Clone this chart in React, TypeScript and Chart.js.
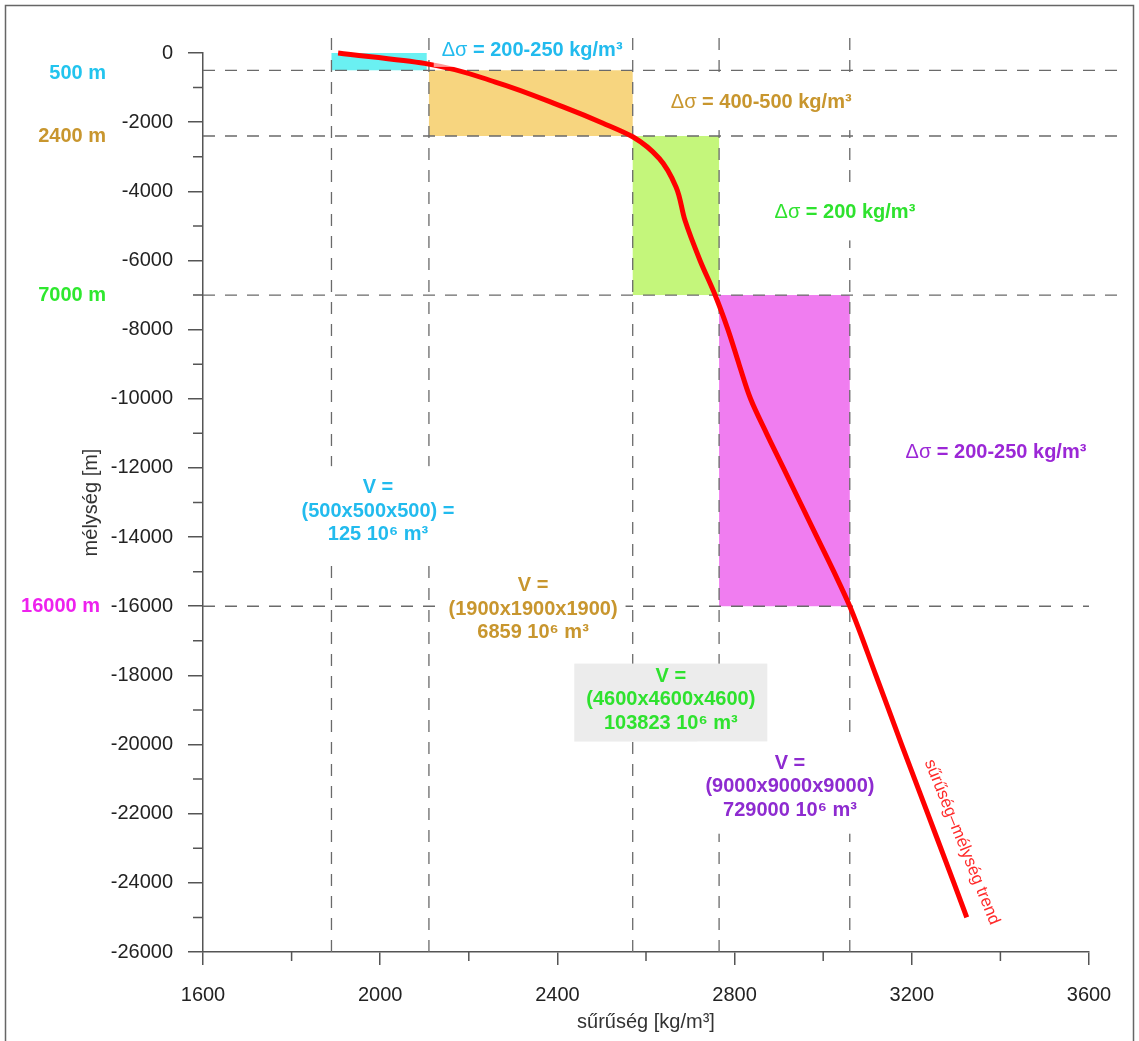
import React, { useEffect, useRef } from 'react';
import { Chart, registerables } from 'chart.js';

Chart.register(...registerables);

// ---- data ----
const trendDensity = [1905, 2100, 2260, 2413, 2503, 2571, 2630, 2668, 2688, 2722, 2756, 2785, 2810, 2836, 2872, 2910, 2948, 2986, 3024, 3060, 3119, 3177, 3236, 3295, 3324];
const trendDepth = [0, -300, -840, -1560, -2030, -2430, -3050, -3880, -4840, -6000, -7000, -8000, -9000, -10000, -11000, -12000, -13000, -14000, -15000, -16000, -18000, -20000, -22000, -24000, -25000];

const layerTop = [0, -500, -2400, -7000];
const layerBottom = [-500, -2400, -7000, -16000];
const layerLeft = [1890, 2110, 2570, 2765];
const layerRight = [2105, 2570, 2765, 3060];
const layerFill = ['#6af0f2', '#f7d57f', '#c4f67b', '#f07df0'];

const markerDepths = [-500, -2400, -7000, -16000];
const markerLabels = ['500 m', '2400 m', '7000 m', '16000 m'];
const markerColors = ['#22c4ee', '#c8962e', '#2ee82e', '#ee22ee'];

const boundaryDensities = [1890, 2110, 2570, 2765, 3060];

const deltaTexts = ['= 200-250 kg/m³', '= 400-500 kg/m³', '= 200 kg/m³', '= 200-250 kg/m³'];
const deltaColors = ['#22bbee', '#c8962e', '#2ee22e', '#9b27d6'];
const deltaPosX = [2343, 2860, 3049, 3390];
const deltaPosY = [60, -1420, -4610, -11565];

const volumeTexts = [
  ['V =', '(500x500x500) =', '125 10⁶ m³'],
  ['V =', '(1900x1900x1900)', '6859 10⁶ m³'],
  ['V =', '(4600x4600x4600)', '103823 10⁶ m³'],
  ['V =', '(9000x9000x9000)', '729000 10⁶ m³'],
];
const volumeColors = ['#22bbee', '#c8962e', '#2ee22e', '#8e2bd0'];
const volumePosX = [1995, 2345, 2656, 2925];
const volumePosY = [-13250, -16090, -18700, -21220];
const volumeBg = ['#ffffff', '#ffffff', '#ececec', '#ffffff'];

const trendLabel = 'sűrűség–mélység trend';
const trendLabelPos = [3313, -22820];

const FONT = 'Arial, "Liberation Sans", Helvetica, sans-serif';

function dashed(ctx: CanvasRenderingContext2D, x0: number, y0: number, x1: number, y1: number) {
  ctx.save();
  ctx.setLineDash([12, 10]);
  ctx.strokeStyle = '#6a6a6a';
  ctx.lineWidth = 1.3;
  ctx.beginPath();
  ctx.moveTo(x0, y0);
  ctx.lineTo(x1, y1);
  ctx.stroke();
  ctx.restore();
}

function deltaWidth(ctx: CanvasRenderingContext2D, rest: string) {
  ctx.font = `20px ${FONT}`;
  const w1 = ctx.measureText('Δσ ').width;
  ctx.font = `bold 20px ${FONT}`;
  const w2 = ctx.measureText(rest).width;
  return [w1, w2];
}

const annotPlugin = {
  id: 'annot',
  beforeDatasetsDraw(chart: any) {
    const { ctx, scales } = chart;
    const x = scales.x;
    const y = scales.y;
    ctx.save();
    for (let i = 0; i < layerTop.length; i++) {
      const x0 = x.getPixelForValue(layerLeft[i]);
      const x1 = x.getPixelForValue(layerRight[i]);
      const y0 = y.getPixelForValue(layerTop[i]);
      const y1 = y.getPixelForValue(layerBottom[i]);
      ctx.fillStyle = layerFill[i];
      ctx.fillRect(x0, y0, x1 - x0, y1 - y0);
    }
    for (let i = 0; i < markerDepths.length; i++) {
      const py = y.getPixelForValue(markerDepths[i]);
      const xr = i < 3 ? x.right + 36 : x.right;
      dashed(ctx, x.left, py, xr, py);
    }
    for (const d of boundaryDensities) {
      const px = x.getPixelForValue(d);
      dashed(ctx, px, y.top - 15, px, y.bottom);
    }
    ctx.textAlign = 'center';
    ctx.textBaseline = 'middle';
    for (let i = 1; i < deltaTexts.length; i++) {
      const [w1, w2] = deltaWidth(ctx, deltaTexts[i]);
      const cx = x.getPixelForValue(deltaPosX[i]);
      const cy = y.getPixelForValue(deltaPosY[i]);
      const w = w1 + w2;
      ctx.fillStyle = '#ffffff';
      ctx.fillRect(cx - w / 2 - 8, cy - 28, w + 16, 56);
    }
    ctx.font = `bold 20px ${FONT}`;
    for (let i = 0; i < volumeTexts.length; i++) {
      const cx = x.getPixelForValue(volumePosX[i]);
      const cy = y.getPixelForValue(volumePosY[i]);
      const w = Math.max(...volumeTexts[i].map((t) => ctx.measureText(t).width));
      ctx.fillStyle = volumeBg[i];
      if (i === 2) {
        ctx.fillRect(cx - w / 2 - 12, cy - 36, w + 24, 78);
      } else {
        ctx.fillRect(cx - w / 2 - 8, cy - 45, w + 16, 92);
      }
    }
    ctx.restore();
  },
  afterDatasetsDraw(chart: any) {
    const { ctx, scales } = chart;
    const x = scales.x;
    const y = scales.y;
    ctx.save();
    ctx.strokeStyle = '#555';
    ctx.lineWidth = 1.5;
    ctx.beginPath();
    for (let v = 1800; v < 3600; v += 400) {
      const px = x.getPixelForValue(v);
      ctx.moveTo(px, y.bottom);
      ctx.lineTo(px, y.bottom + 9);
    }
    for (let v = -1000; v > -26000; v -= 2000) {
      const py = y.getPixelForValue(v);
      ctx.moveTo(x.left, py);
      ctx.lineTo(x.left - 10, py);
    }
    ctx.stroke();

    {
      const [w1, w2] = deltaWidth(ctx, deltaTexts[0]);
      const cx = x.getPixelForValue(deltaPosX[0]);
      const cy = y.getPixelForValue(deltaPosY[0]);
      const w = w1 + w2;
      ctx.fillStyle = 'rgba(255,255,255,0.6)';
      ctx.fillRect(cx - w / 2 - 8, cy - 14, w + 16, 30);
    }

    ctx.textBaseline = 'middle';
    ctx.textAlign = 'left';
    for (let i = 0; i < deltaTexts.length; i++) {
      const [w1, w2] = deltaWidth(ctx, deltaTexts[i]);
      const cx = x.getPixelForValue(deltaPosX[i]);
      const cy = y.getPixelForValue(deltaPosY[i]);
      const sx = cx - (w1 + w2) / 2;
      ctx.fillStyle = deltaColors[i];
      ctx.font = `20px ${FONT}`;
      ctx.fillText('Δσ ', sx, cy);
      ctx.font = `bold 20px ${FONT}`;
      ctx.fillText(deltaTexts[i], sx + w1, cy);
    }

    ctx.textAlign = 'center';
    ctx.font = `bold 20px ${FONT}`;
    for (let i = 0; i < volumeTexts.length; i++) {
      const cx = x.getPixelForValue(volumePosX[i]);
      const cy = y.getPixelForValue(volumePosY[i]);
      ctx.fillStyle = volumeColors[i];
      volumeTexts[i].forEach((t, k) => ctx.fillText(t, cx, cy + (k - 1) * 23.5));
    }

    ctx.textAlign = 'right';
    for (let i = 0; i < markerDepths.length; i++) {
      const py = y.getPixelForValue(markerDepths[i]);
      ctx.fillStyle = markerColors[i];
      ctx.fillText(markerLabels[i], x.left - (i === 3 ? 103 : 97), py + (i === 0 ? 3 : 0));
    }

    {
      const cx = x.getPixelForValue(trendLabelPos[0]);
      const cy = y.getPixelForValue(trendLabelPos[1]);
      ctx.save();
      ctx.translate(cx, cy);
      ctx.rotate((68 * Math.PI) / 180);
      ctx.font = `17px ${FONT}`;
      ctx.fillStyle = '#ff2a2a';
      ctx.textAlign = 'center';
      ctx.textBaseline = 'middle';
      ctx.fillText(trendLabel, 0, 0);
      ctx.restore();
    }

    ctx.strokeStyle = '#666';
    ctx.lineWidth = 1.5;
    ctx.beginPath();
    ctx.moveTo(5.5, 1041);
    ctx.lineTo(5.5, 5.5);
    ctx.lineTo(1133.5, 5.5);
    ctx.lineTo(1133.5, 1041);
    ctx.stroke();
    ctx.restore();
  },
};

export default function App() {
  const ref = useRef<HTMLCanvasElement>(null);
  useEffect(() => {
    const canvas = ref.current;
    if (!canvas) return;
    const chart = new Chart(canvas, {
      type: 'scatter',
      data: {
        datasets: [
          {
            label: 'trend',
            data: trendDensity.map((d, i) => ({ x: d, y: trendDepth[i] })),
            showLine: true,
            borderColor: '#ff0000',
            backgroundColor: '#ff0000',
            borderWidth: 5,
            pointRadius: 0,
            cubicInterpolationMode: 'monotone',
            clip: false as any,
          } as any,
        ],
      },
      options: {
        indexAxis: 'y',
        responsive: false,
        animation: false,
        devicePixelRatio: 1,
        layout: { padding: { left: 79, right: 50, top: 53, bottom: 0 } },
        plugins: { legend: { display: false }, tooltip: { enabled: false } },
        scales: {
          x: {
            type: 'linear',
            position: 'bottom',
            min: 1600,
            max: 3600,
            afterFit: (s: any) => {
              s.height = 1041 - 952;
            },
            border: { display: true, color: '#555', width: 1.5 },
            grid: {
              drawOnChartArea: false,
              drawTicks: true,
              tickLength: 13,
              lineWidth: 1.5,
              color: (c: any) => (c.tick && c.tick.value % 400 === 0 ? '#555' : 'rgba(0,0,0,0)'),
            },
            ticks: {
              stepSize: 200,
              autoSkip: false,
              maxRotation: 0,
              padding: 18,
              color: '#222',
              font: { family: FONT, size: 20 },
              callback: (v: any) => (Number(v) % 400 === 0 ? String(v) : ''),
            },
            title: {
              display: true,
              text: 'sűrűség [kg/m³]',
              color: '#333',
              font: { family: FONT, size: 20 },
              padding: { top: 0, bottom: 7 },
            },
          },
          y: {
            type: 'linear',
            position: 'left',
            min: -26000,
            max: 0,
            afterFit: (s: any) => {
              s.width = 124;
            },
            border: { display: true, color: '#555', width: 1.5 },
            grid: {
              drawOnChartArea: false,
              drawTicks: true,
              tickLength: 15,
              lineWidth: 1.5,
              color: (c: any) => (c.tick && c.tick.value % 2000 === 0 ? '#555' : 'rgba(0,0,0,0)'),
            },
            ticks: {
              stepSize: 1000,
              autoSkip: false,
              padding: 15,
              color: '#222',
              font: { family: FONT, size: 20 },
              callback: (v: any) => (Number(v) % 2000 === 0 ? String(v) : ''),
            },
            title: {
              display: true,
              text: 'mélység [m]',
              color: '#333',
              font: { family: FONT, size: 20 },
              padding: { top: 0, bottom: 0 },
            },
          },
        },
      },
      plugins: [annotPlugin],
    });
    return () => chart.destroy();
  }, []);
  return (
    <div style={{ position: 'absolute', left: 0, top: 0, width: 1139, height: 1041, background: '#ffffff' }}>
      <canvas ref={ref} width={1139} height={1041} style={{ display: 'block' }} />
    </div>
  );
}
